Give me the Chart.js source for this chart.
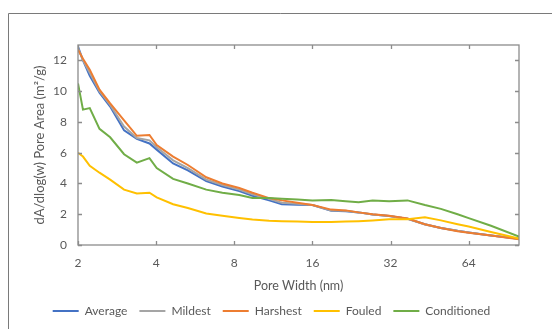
<!DOCTYPE html>
<html>
<head>
<meta charset="utf-8">
<script src="https://cdn.jsdelivr.net/npm/chart.js@4.4.0/dist/chart.umd.min.js"></script>
<style>
  html, body { margin: 0; padding: 0; background: #fff; }
  #wrap { width: 553px; height: 329px; }
</style>
</head>
<body>
<div id="wrap"><canvas id="poreChart" width="553" height="329"></canvas></div>
<script>
// pore widths (nm)
const widths = [2.0, 2.09, 2.22, 2.42, 2.66, 3.01, 3.37, 3.77, 4.02, 4.65, 5.3, 6.24, 7.2, 8.36, 9.4, 10.9,
    12.2, 14.0, 16.0, 18.9, 21.5, 24.1, 27.3, 31.6, 37.2, 43.4, 50, 58, 64, 78, 100];

const average = [12.9, 12.0, 11.0, 9.9, 9.0, 7.45, 6.9, 6.6, 6.2, 5.3, 4.85, 4.15, 3.8, 3.5, 3.2, 2.9,
    2.65, 2.62, 2.6, 2.22, 2.2, 2.12, 1.98, 1.88, 1.7, 1.35, 1.1, 0.92, 0.82, 0.62, 0.4];
const mildest = [12.8, 12.0, 11.2, 10.0, 9.1, 7.7, 6.95, 6.8, 6.35, 5.5, 5.0, 4.25, 3.9, 3.6, 3.3, 3.0,
    2.75, 2.68, 2.6, 2.25, 2.22, 2.12, 1.98, 1.88, 1.7, 1.33, 1.1, 0.92, 0.82, 0.62, 0.4];
const harshest = [12.7, 12.1, 11.4, 10.1, 9.2, 8.1, 7.1, 7.15, 6.5, 5.75, 5.2, 4.4, 4.0, 3.7, 3.4, 3.05,
    2.9, 2.75, 2.6, 2.3, 2.25, 2.12, 2.0, 1.9, 1.72, 1.35, 1.1, 0.9, 0.8, 0.62, 0.38];
const fouled = [6.0, 5.75, 5.15, 4.7, 4.25, 3.6, 3.35, 3.4, 3.1, 2.65, 2.4, 2.05, 1.9, 1.75, 1.65, 1.58,
    1.55, 1.52, 1.5, 1.5, 1.52, 1.55, 1.6, 1.68, 1.68, 1.8, 1.6, 1.35, 1.2, 0.85, 0.42];
const conditioned = [10.5, 8.8, 8.9, 7.55, 7.0, 5.9, 5.35, 5.65, 5.0, 4.3, 4.0, 3.6, 3.4, 3.25, 3.05, 3.05,
    3.0, 2.95, 2.9, 2.92, 2.85, 2.78, 2.9, 2.85, 2.9, 2.6, 2.35, 2.0, 1.75, 1.25, 0.55];

const xTicks = [2, 4, 8, 16, 32, 64];
const yTicks = [0, 2, 4, 6, 8, 10, 12];

const seriesNames = ['Average', 'Mildest', 'Harshest', 'Fouled', 'Conditioned'];
const seriesColors = ['#4472C4', '#A5A5A5', '#ED7D31', '#FFC000', '#70AD47'];
const seriesValues = [average, mildest, harshest, fouled, conditioned];

const textColor = '#595959';
const frameColor = '#8c8c8c';
const fontFamily = 'Lato, "Open Sans", sans-serif';

// box around the plot with small inward ticks, plus the outer chart border
const framePlugin = {
    id: 'frame',
    afterDatasetsDraw(chart) {
        const { ctx, chartArea: a, scales } = chart;
        ctx.save();
        ctx.strokeStyle = frameColor;
        ctx.lineWidth = 1.3;
        ctx.strokeRect(a.left, a.top, a.right - a.left, a.bottom - a.top);
        ctx.beginPath();
        xTicks.forEach(v => {
            const x = Math.round(scales.x.getPixelForValue(v)) + 0.5;
            ctx.moveTo(x, a.bottom); ctx.lineTo(x, a.bottom - 4);
            ctx.moveTo(x, a.top); ctx.lineTo(x, a.top + 4);
        });
        yTicks.forEach(v => {
            const y = Math.round(scales.y.getPixelForValue(v)) + 0.5;
            ctx.moveTo(a.left, y); ctx.lineTo(a.left + 4, y);
            ctx.moveTo(a.right, y); ctx.lineTo(a.right - 4, y);
        });
        ctx.stroke();

        ctx.strokeStyle = '#7a7a7a';
        ctx.lineWidth = 1;
        ctx.beginPath();
        ctx.moveTo(8.5, chart.height);
        ctx.lineTo(8.5, 13.5);
        ctx.lineTo(552, 13.5);
        ctx.stroke();
        ctx.restore();
    }
};

const datasets = seriesNames.map((name, i) => ({
    label: name,
    data: widths.map((w, j) => ({ x: w, y: seriesValues[i][j] })),
    borderColor: seriesColors[i],
    backgroundColor: seriesColors[i],
    borderWidth: 2,
    pointRadius: 0,
    tension: 0,
    fill: false,
    order: seriesNames.length - 1 - i
}));

new Chart(document.getElementById('poreChart').getContext('2d'), {
    type: 'line',
    data: { datasets: datasets },
    options: {
        responsive: false,
        animation: false,
        layout: { padding: { left: 24, right: 34, top: 45, bottom: 2 } },
        plugins: {
            legend: {
                position: 'bottom',
                labels: {
                    usePointStyle: true,
                    pointStyle: 'line',
                    pointStyleWidth: 26,
                    padding: 12,
                    color: textColor,
                    font: { family: fontFamily, size: 12 },
                    sort: (a, b) => a.datasetIndex - b.datasetIndex
                }
            },
            tooltip: { enabled: false }
        },
        scales: {
            x: {
                type: 'logarithmic',
                min: 2,
                max: 100,
                grid: { display: false, drawTicks: false },
                border: { display: false },
                afterBuildTicks: scale => { scale.ticks = xTicks.map(v => ({ value: v })); },
                afterFit: scale => { scale.height = 48; },
                ticks: {
                    padding: 11,
                    color: textColor,
                    font: { family: fontFamily, size: 12 },
                    autoSkip: false,
                    maxRotation: 0,
                    callback: v => String(v)
                },
                title: {
                    display: true,
                    text: 'Pore Width (nm)',
                    color: textColor,
                    font: { family: fontFamily, size: 12.5 },
                    padding: { top: 0, bottom: 0 }
                }
            },
            y: {
                min: 0,
                max: 13,
                grid: { display: false, drawTicks: false },
                border: { display: false },
                afterBuildTicks: scale => { scale.ticks = yTicks.map(v => ({ value: v })); },
                afterFit: scale => { scale.width = 54; },
                ticks: {
                    padding: 11,
                    color: textColor,
                    font: { family: fontFamily, size: 12 }
                },
                title: {
                    display: true,
                    text: 'dA/dlog(w) Pore Area (m²/g)',
                    color: textColor,
                    font: { family: fontFamily, size: 13 },
                    padding: { top: 8, bottom: 0 }
                }
            }
        }
    },
    plugins: [framePlugin]
});
</script>
</body>
</html>
